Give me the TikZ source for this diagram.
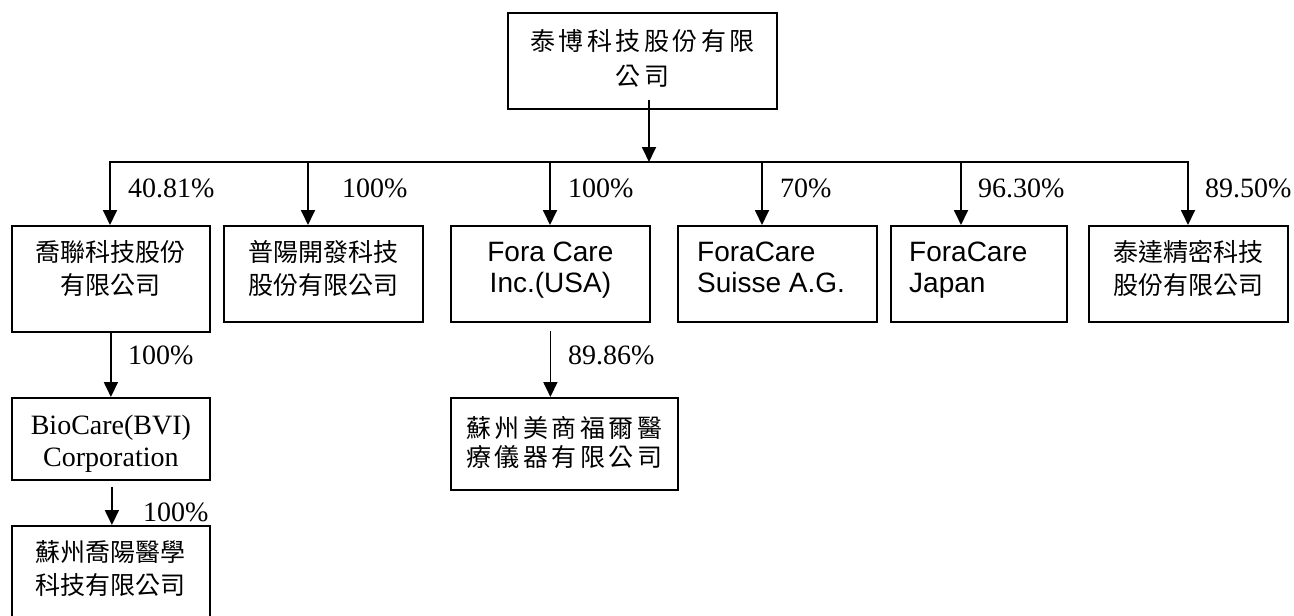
\documentclass[tikz,border=0pt]{standalone}
\usepackage{fontspec}
\setmainfont{Liberation Serif}
\newfontfamily\arialfont{Liberation Sans}
\newfontfamily\cjkfont{Noto Sans CJK TC}
\newfontfamily\cjkwidefont[LetterSpace=14]{Noto Sans CJK TC}
\usetikzlibrary{arrows.meta,positioning}

\begin{document}
\begin{tikzpicture}[x=1pt,y=-1pt,
    firm/.style={draw,line width=1.8pt,inner sep=0pt,anchor=north west},
    zh/.style={inner sep=0pt,anchor=north,align=center,font=\cjkfont\fontsize{25}{33}\selectfont},
    en/.style={inner sep=0pt,anchor=north,align=center,font=\fontsize{28}{32}\selectfont},
    share/.style={inner sep=0pt,anchor=west,font=\fontsize{28}{33}\selectfont},
    own/.style={line width=1.8pt,-{Triangle[width=14pt,length=15pt]}}]
    \useasboundingbox (0,0) rectangle (1294,616);

    % Empresa matriz
    \node[firm,minimum width=269,minimum height=96] (taibo) at (507,12) {};
    \node[zh,font=\cjkwidefont\fontsize{25}{35}\selectfont,below=17pt of taibo.north] (taibotxt) {泰博科技股份有限\\公司};

    % Filiales
    \node[firm,minimum width=198,minimum height=106] (qiaolian) at (11,225) {};
    \node[firm,minimum width=199,minimum height=96] (puyang) at (223,225) {};
    \node[firm,minimum width=199,minimum height=96] (forausa) at (450,225) {};
    \node[firm,minimum width=199,minimum height=96] (suisse) at (677,225) {};
    \node[firm,minimum width=176,minimum height=96] (japan) at (890,225) {};
    \node[firm,minimum width=199,minimum height=96] (taida) at (1088,225) {};
    \node[firm,minimum width=198,minimum height=82] (biocare) at (11,397) {};
    \node[firm,minimum width=198,minimum height=120] (qiaoyang) at (11,525) {};
    \node[firm,minimum width=227,minimum height=92] (suzhou) at (450,397) {};

    \node[zh,below=15pt of qiaolian.north] (qiaoliantxt) {喬聯科技股份\\有限公司};
    \node[zh,below=15pt of puyang.north] (puyangtxt) {普陽開發科技\\股份有限公司};
    \node[en,font=\arialfont\fontsize{28}{31}\selectfont,below=17pt of forausa.north] (forausatxt) {Fora Care\\Inc.(USA)};
    \node[en,font=\arialfont\fontsize{28}{31}\selectfont,anchor=north west,align=left] (suissetxt) at (697,242) {ForaCare\\Suisse A.G.};
    \node[en,font=\arialfont\fontsize{28}{31}\selectfont,anchor=north west,align=left] (japantxt) at (909,242) {ForaCare\\Japan};
    \node[zh,below=15pt of taida.north] (taidatxt) {泰達精密科技\\股份有限公司};
    \node[en,below=18pt of biocare.north] (biocaretxt) {BioCare(BVI)\\Corporation};
    \node[zh,below=15pt of qiaoyang.north] (qiaoyangtxt) {蘇州喬陽醫學\\科技有限公司};
    \node[zh,font=\cjkwidefont\fontsize{25}{29}\selectfont,below=19pt of suzhou.north] (suzhoutxt) {蘇州美商福爾醫\\療儀器有限公司};

    % Barra de distribución
    \coordinate (hub) at (649,162);
    \coordinate (b1) at (110,162);
    \coordinate (b2) at (308,162);
    \coordinate (b3) at (550,162);
    \coordinate (b4) at (762,162);
    \coordinate (b5) at (961,162);
    \coordinate (b6) at (1188,162);
    \draw[own] ([yshift=10pt]hub |- taibo.south) -- (hub);
    \draw[line width=1.8pt,line cap=rect] (b1) -- (b6);
    \foreach \b/\f in {b1/qiaolian,b2/puyang,b3/forausa,b4/suisse,b5/japan,b6/taida}
        \draw[own] (\b) -- (\b |- \f.north);

    % Participaciones
    \node[share] (p1) at (128,188) {40.81\%};
    \node[share] (p2) at (342,188) {100\%};
    \node[share] (p3) at (568,188) {100\%};
    \node[share] (p4) at (780,188) {70\%};
    \node[share] (p5) at (978,188) {96.30\%};
    \node[share] (p6) at (1205,188) {89.50\%};

    % Segundo nivel
    \draw[own] (qiaolian.south) -- (biocare.north);
    \node[share] (p7) at (128,355) {100\%};
    \draw[own] ([shift={(1pt,-6pt)}]biocare.south) -- ([xshift=1pt]biocare.north |- qiaoyang.north);
    \node[share] (p8) at (143,512) {100\%};
    \draw[own] ([yshift=-8pt]forausa.south) -- (forausa.south |- suzhou.north);
    \node[share] (p9) at (568,355) {89.86\%};
\end{tikzpicture}
\end{document}
